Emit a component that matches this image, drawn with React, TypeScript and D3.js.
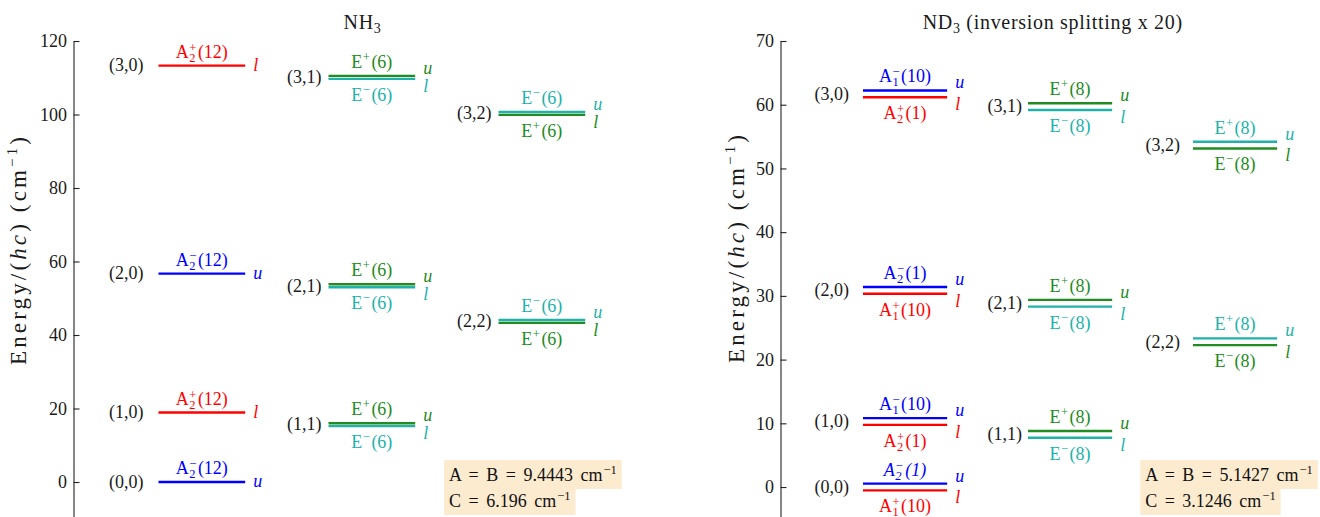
import React, { useEffect, useRef } from "react";
import * as d3 from "d3";

// ---------- data ----------
const kjLabels = ["(0,0)", "(1,0)", "(2,0)", "(3,0)", "(1,1)", "(2,1)", "(3,1)", "(2,2)", "(3,2)"];
const kValues = [0, 0, 0, 0, 1, 1, 1, 2, 2];

const nh3Ticks = [0, 20, 40, 60, 80, 100, 120];
const nd3Ticks = [0, 10, 20, 30, 40, 50, 60, 70];

// energies (cm^-1) of upper (u) and lower (l) inversion levels
const nh3Upper: (number | null)[] = [0, null, 56.7, null, 16.0, 53.8, 110.5, 44.1, 100.7];
const nh3Lower: (number | null)[] = [null, 18.9, null, 113.3, 15.2, 53.0, 109.7, 43.3, 99.9];
const nh3UpperSpecies: (string | null)[] = ["A_2^−(12)", null, "A_2^−(12)", null, "E^+(6)", "E^+(6)", "E^+(6)", "E^−(6)", "E^−(6)"];
const nh3LowerSpecies: (string | null)[] = [null, "A_2^+(12)", null, "A_2^+(12)", "E^−(6)", "E^−(6)", "E^−(6)", "E^+(6)", "E^+(6)"];
const nh3UpperItalic = [false, false, false, false, false, false, false, false, false];

const nd3Upper: (number | null)[] = [0.53, 10.82, 31.39, 62.24, 8.8, 29.37, 60.22, 23.33, 54.19];
const nd3Lower: (number | null)[] = [-0.53, 9.76, 30.33, 61.18, 7.74, 28.31, 59.16, 22.27, 53.13];
const nd3UpperSpecies: (string | null)[] = ["A_2^−(1)", "A_1^−(10)", "A_2^−(1)", "A_1^−(10)", "E^+(8)", "E^+(8)", "E^+(8)", "E^+(8)", "E^+(8)"];
const nd3LowerSpecies: (string | null)[] = ["A_1^+(10)", "A_2^+(1)", "A_1^+(10)", "A_2^+(1)", "E^−(8)", "E^−(8)", "E^−(8)", "E^−(8)", "E^−(8)"];
const nd3UpperItalic = [true, false, false, false, false, false, false, false, false];

const upperColors = ["#0000ff", "#228b22", "#20b2aa"];
const lowerColors = ["#ff0000", "#20b2aa", "#228b22"];

const nh3Constants = ["A = B = 9.4443 cm", "C = 6.196 cm"];
const nd3Constants = ["A = B = 5.1427 cm", "C = 3.1246 cm"];

// ---------- layout ----------
const W = 1320;
const H = 517;
const FONT = "Liberation Serif, DejaVu Serif, serif";
const TXT = "#1a1a1a";

interface PanelCfg {
  xDomain: [number, number];
  xRange: [number, number];
  yDomain: [number, number];
  yRange: [number, number];
  ticks: number[];
  upper: (number | null)[];
  lower: (number | null)[];
  upperSpecies: (string | null)[];
  lowerSpecies: (string | null)[];
  upperItalic: boolean[];
  kjGap: number[];
  title: [string, string, string];
  ylabelX: number;
  ylabelY: number;
  constants: string[];
  boxX: number;
}

const panels: PanelCfg[] = [
  {
    xDomain: [-0.5, 2.9],
    xRange: [73.5, 651.5],
    yDomain: [-10, 120],
    yRange: [518.75, 41],
    ticks: nh3Ticks,
    upper: nh3Upper,
    lower: nh3Lower,
    upperSpecies: nh3UpperSpecies,
    lowerSpecies: nh3LowerSpecies,
    upperItalic: nh3UpperItalic,
    kjGap: [15, 7, 7],
    title: ["NH", "3", ""],
    ylabelX: 26,
    ylabelY: 251,
    constants: nh3Constants,
    boxX: 1.68,
  },
  {
    xDomain: [-0.5, 2.8],
    xRange: [780.5, 1325],
    yDomain: [-5, 70],
    yRange: [518.9, 41],
    ticks: nd3Ticks,
    upper: nd3Upper,
    lower: nd3Lower,
    upperSpecies: nd3UpperSpecies,
    lowerSpecies: nd3LowerSpecies,
    upperItalic: nd3UpperItalic,
    kjGap: [14, 6, 13],
    title: ["ND", "3", " (inversion splitting x 20)"],
    ylabelX: 744,
    ylabelY: 249,
    constants: nd3Constants,
    boxX: 1.68,
  },
];

type Sel = d3.Selection<SVGGElement, unknown, null, undefined>;

function spanLen(t: d3.Selection<SVGTSpanElement, unknown, null, undefined>) {
  return (t.node() as SVGTSpanElement).getComputedTextLength();
}

function richLabel(g: Sel, spec: string, cx: number, baseline: number, color: string, italic: boolean) {
  const m = spec.match(/^([A-Z])(?:_(\d))?(?:\^([+−]))?(\(\d+\))$/);
  if (!m) return;
  const t = g
    .append("text")
    .attr("fill", color)
    .style("font-style", italic ? "italic" : "normal")
    .attr("font-size", 18);
  const base = t.append("tspan").attr("x", 0).attr("y", baseline).text(m[1]);
  const w0 = spanLen(base);
  let sw = 0;
  let sup: any = null;
  let sub: any = null;
  if (m[3]) {
    sup = t.append("tspan").attr("y", baseline - (m[2] ? 6 : 7)).attr("font-size", 12.5).text(m[3]);
    sw = Math.max(sw, spanLen(sup));
  }
  if (m[2]) {
    sub = t.append("tspan").attr("y", baseline + 4).attr("font-size", 12.5).text(m[2]);
    sw = Math.max(sw, spanLen(sub));
  }
  const tail = t.append("tspan").attr("y", baseline).text(m[4]);
  const wt = spanLen(tail);
  const total = w0 + 0.5 + sw + 1.5 + wt;
  const x0 = cx - total / 2;
  base.attr("x", x0);
  if (sup) sup.attr("x", x0 + w0 + 0.5);
  if (sub) sub.attr("x", x0 + w0 + 0.5);
  tail.attr("x", x0 + w0 + 0.5 + sw + 1.5);
}

function drawPanel(svg: Sel, cfg: PanelCfg) {
  const x = d3.scaleLinear().domain(cfg.xDomain).range(cfg.xRange);
  const y = d3.scaleLinear().domain(cfg.yDomain).range(cfg.yRange);
  const g = svg.append("g").style("font-family", FONT);

  // axis
  const ax = g
    .append("g")
    .attr("transform", `translate(${cfg.xRange[0]},0)`)
    .call(d3.axisLeft(y).tickValues(cfg.ticks).tickSizeInner(-6).tickSizeOuter(0).tickPadding(6.5).tickFormat(d3.format("d")));
  ax.attr("font-family", null).attr("font-size", null);
  ax.select(".domain").attr("stroke", "#222").attr("stroke-width", 1.1);
  ax.selectAll(".tick line").attr("stroke", "#222").attr("stroke-width", 1.1);
  ax.selectAll(".tick text").attr("font-size", 18).style("font-family", FONT).attr("fill", TXT);

  // title
  const cx = (cfg.xRange[0] + cfg.xRange[1]) / 2;
  const title = g
    .append("text")
    .attr("x", cx)
    .attr("y", 29)
    .attr("text-anchor", "middle")
    .attr("font-size", 20)
    .attr("fill", TXT)
    .style("letter-spacing", "0.7px");
  title.append("tspan").text(cfg.title[0]);
  title.append("tspan").attr("font-size", 14).attr("dy", 4).text(cfg.title[1]);
  if (cfg.title[2]) title.append("tspan").attr("dy", -4).text(cfg.title[2]);

  // y label
  const yl = g
    .append("text")
    .attr("transform", `translate(${cfg.ylabelX},${cfg.ylabelY}) rotate(-90)`)
    .attr("text-anchor", "middle")
    .attr("font-size", 23)
    .attr("fill", TXT)
    .attr("textLength", 228)
    .attr("lengthAdjust", "spacing");
  yl.append("tspan").text("Energy/(");
  yl.append("tspan").style("font-style", "italic").text("hc");
  yl.append("tspan").text(")  (cm");
  yl.append("tspan").attr("font-size", 15).attr("dy", -9).text("−1");
  yl.append("tspan").attr("dy", 9).text(")");

  // levels
  kValues.forEach((K, i) => {
    const up = cfg.upper[i];
    const lo = cfg.lower[i];
    const xs = x(K);
    const xe = x(K + 0.51);
    const xm = (xs + xe) / 2;
    const vals = [up, lo].filter((v): v is number => v !== null);
    const center = d3.mean(vals) as number;
    const pair = vals.length === 2;

    if (up !== null) {
      g.append("line").attr("x1", xs).attr("x2", xe).attr("y1", y(up)).attr("y2", y(up))
        .attr("stroke", upperColors[K]).attr("stroke-width", 2.4);
    }
    if (lo !== null) {
      g.append("line").attr("x1", xs).attr("x2", xe).attr("y1", y(lo)).attr("y2", y(lo))
        .attr("stroke", lowerColors[K]).attr("stroke-width", 2.4);
    }

    // (J,K) label
    g.append("text")
      .attr("x", xs - cfg.kjGap[K])
      .attr("y", y(center))
      .attr("dy", "0.32em")
      .attr("text-anchor", "end")
      .attr("font-size", 18)
      .attr("fill", TXT)
      .text(kjLabels[i]);

    if (pair) {
      richLabel(g, cfg.upperSpecies[i] as string, xm, y(up as number) - 8, upperColors[K], cfg.upperItalic[i]);
      richLabel(g, cfg.lowerSpecies[i] as string, xm, y(lo as number) + 22, lowerColors[K], false);
      g.append("text").attr("x", xe + 8).attr("y", y(up as number) - 2).attr("font-size", 18)
        .style("font-style", "italic").attr("fill", upperColors[K]).text("u");
      g.append("text").attr("x", xe + 8).attr("y", y(lo as number) + 13).attr("font-size", 18)
        .style("font-style", "italic").attr("fill", lowerColors[K]).text("l");
    } else {
      const isUp = up !== null;
      const v = (isUp ? up : lo) as number;
      const col = isUp ? upperColors[K] : lowerColors[K];
      const spec = (isUp ? cfg.upperSpecies[i] : cfg.lowerSpecies[i]) as string;
      richLabel(g, spec, xm, y(v) - 8, col, isUp ? cfg.upperItalic[i] : false);
      g.append("text").attr("x", xe + 8).attr("y", y(v) + 5).attr("font-size", 18)
        .style("font-style", "italic").attr("fill", col).text(isUp ? "u" : "l");
    }
  });

  // constants box
  const rowTop = [460, 489];
  const rowBottom = [489, 515];
  const rowBase = [481, 507];
  cfg.constants.forEach((s, r) => {
    const bx = x(cfg.boxX);
    const rg = g.append("g");
    const rect = rg.append("rect").attr("fill", "#fdebd0");
    const t = rg
      .append("text")
      .attr("x", bx + 5)
      .attr("y", rowBase[r])
      .attr("font-size", 18)
      .attr("fill", "#111")
      .style("word-spacing", "3px");
    t.append("tspan").text(s);
    t.append("tspan").attr("font-size", 12.5).attr("dy", -7).attr("dx", 1).text("−1");
    const bb = (t.node() as SVGTextElement).getBBox();
    rect
      .attr("x", bx)
      .attr("y", rowTop[r])
      .attr("width", bb.width + 10)
      .attr("height", rowBottom[r] - rowTop[r]);
  });
}

export default function App() {
  const ref = useRef<SVGSVGElement | null>(null);
  useEffect(() => {
    if (!ref.current) return;
    const svg = d3.select(ref.current);
    svg.selectAll("*").remove();
    const root = svg.append("g") as unknown as Sel;
    panels.forEach((p) => drawPanel(root, p));
  }, []);
  return (
    <svg
      ref={ref}
      width={W}
      height={H}
      viewBox={`0 0 ${W} ${H}`}
      style={{ position: "absolute", left: 0, top: 0, background: "#fff", fontFamily: FONT }}
    />
  );
}
